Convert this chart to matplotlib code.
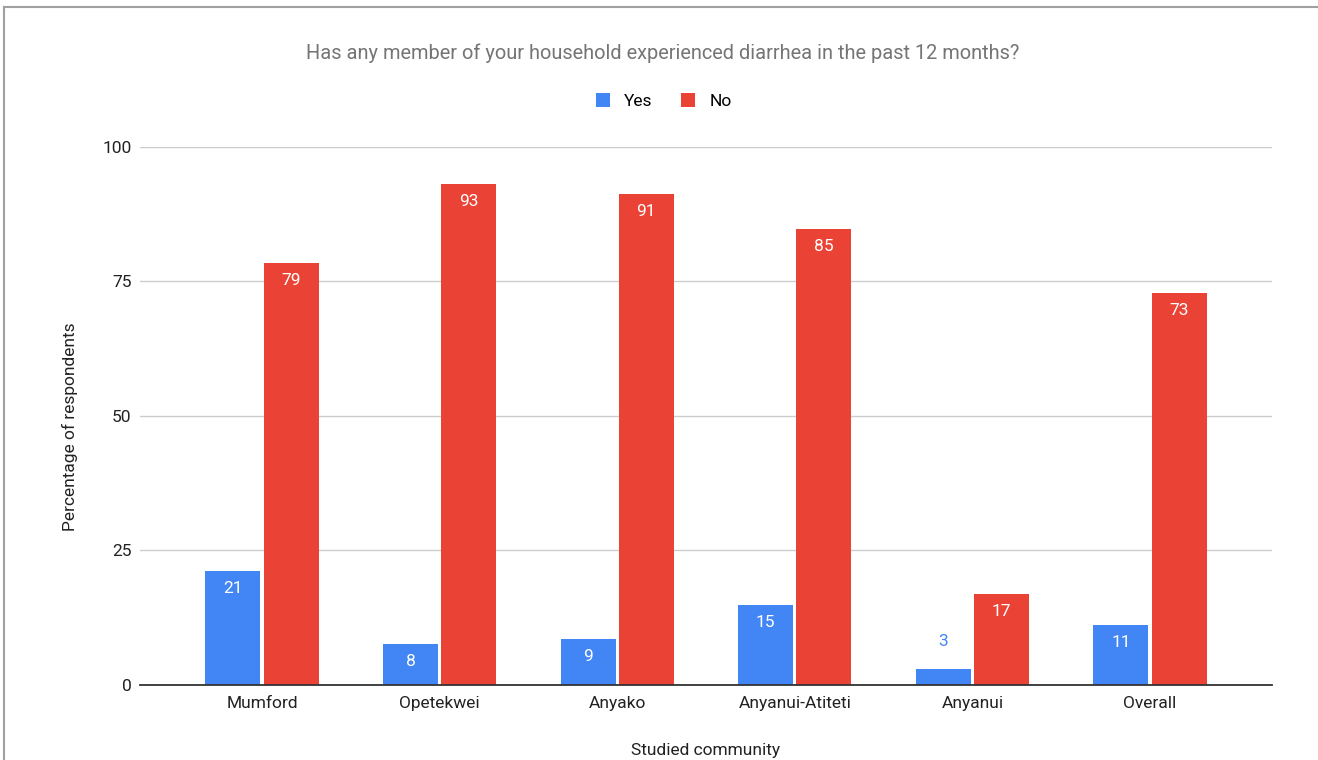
import numpy as np
import matplotlib.pyplot as plt

plt.rcParams['font.family'] = ['Roboto', 'DejaVu Sans']

# data
communities = ['Mumford', 'Opetekwei', 'Anyako', 'Anyanui-Atiteti', 'Anyanui', 'Overall']
yes_vals = [21.2, 7.6, 8.6, 14.9, 3.0, 11.2]
no_vals = [78.5, 93.1, 91.3, 84.8, 16.9, 72.9]
yes_labels = ['21', '8', '9', '15', '3', '11']
no_labels = ['79', '93', '91', '85', '17', '73']

blue = '#4285F4'
red = '#EA4335'

fig = plt.figure(figsize=(13.18, 7.6), dpi=100)
ax = fig.add_axes([0.1062, 0.0987, 0.8589, 0.7079])

x = np.arange(len(communities))
w = 0.31
gap = 0.009
b1 = ax.bar(x - w / 2 - gap, yes_vals, w, color=blue, label='Yes', zorder=3)
b2 = ax.bar(x + w / 2 + gap, no_vals, w, color=red, label='No', zorder=3)

# value labels inside the bars, outside when bar is too short
for bars, labels, col in [(b1, yes_labels, blue), (b2, no_labels, red)]:
    for b, lab in zip(bars, labels):
        h = b.get_height()
        cx = b.get_x() + b.get_width() / 2
        if h > 6:
            ax.text(cx, h - 3.3, lab, ha='center', va='center', color='white', fontsize=12.5, zorder=4)
        else:
            ax.text(cx, h + 5.0, lab, ha='center', va='center', color=col, fontsize=12.5, zorder=4)

ax.set_xlim(-0.687, 5.687)
ax.set_ylim(0, 100)
ax.set_yticks([0, 25, 50, 75, 100])
ax.set_xticks(x)
ax.set_xticklabels(communities)
ax.tick_params(axis='both', length=0, labelsize=12.5, colors='#222222')
ax.tick_params(axis='y', pad=6)
ax.tick_params(axis='x', pad=8)
ax.grid(axis='y', color='#cccccc', linewidth=1, zorder=0)
for s in ['top', 'right', 'left']:
    ax.spines[s].set_visible(False)
ax.spines['bottom'].set_color('#333333')
ax.spines['bottom'].set_linewidth(1.3)
ax.spines['bottom'].set_zorder(5)

ax.set_ylabel('Percentage of respondents', fontsize=12.5, color='#222222')
ax.yaxis.set_label_coords(-0.055, 0.48)
fig.text(0.5357, 0.013, 'Studied community', ha='center', va='center', fontsize=12.5, color='#222222')

fig.text(0.503, 0.930, 'Has any member of your household experienced diarrhea in the past 12 months?',
         ha='center', va='center', fontsize=14.4, color='#757575')

fig.legend(loc='center', bbox_to_anchor=(0.5035, 0.867), ncol=2, frameon=False, fontsize=12.5,
           handlelength=0.85, handleheight=0.85, handletextpad=0.8, columnspacing=1.6)

# thin frame on top and left edge like the screenshot
fig.add_artist(plt.Line2D([0.003, 0.003], [0, 0.991], transform=fig.transFigure, color='#a0a0a0', lw=1.5))
fig.add_artist(plt.Line2D([0.003, 1], [0.991, 0.991], transform=fig.transFigure, color='#a0a0a0', lw=1.5))

fig.savefig('out.png', dpi=100)
